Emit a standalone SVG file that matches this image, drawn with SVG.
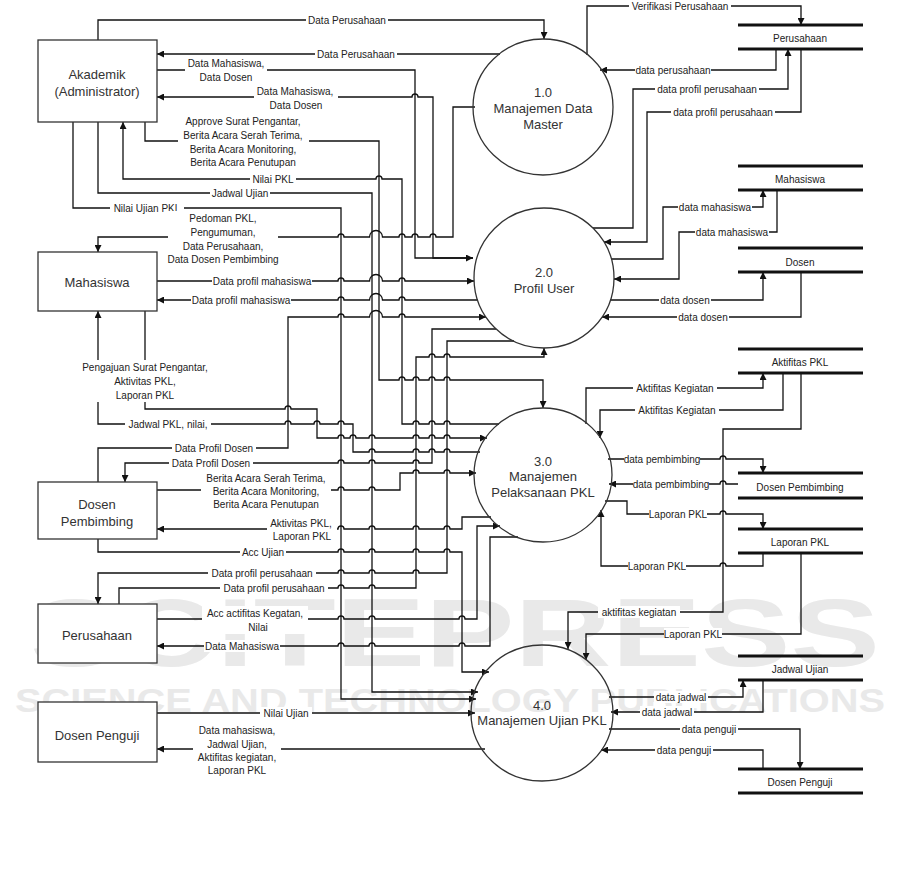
<svg xmlns="http://www.w3.org/2000/svg" width="901" height="887" viewBox="0 0 901 887">
<style>
.c{fill:none;stroke:#111;stroke-width:1.3}
.bg{fill:#fff}
.t{font-family:"Liberation Sans",Arial,sans-serif;font-size:10px;fill:#222;text-anchor:middle;dominant-baseline:central}
.n{font-family:"Liberation Sans",Arial,sans-serif;font-size:13px;fill:#333;text-anchor:middle;dominant-baseline:central}
.box{fill:#fff;stroke:#333;stroke-width:1.3}
.p{fill:#fff;fill-opacity:0;stroke:#333;stroke-width:1.3}
.s{stroke:#111;stroke-width:3}
.w{font-family:"Liberation Sans",Arial,sans-serif;font-weight:bold;fill:#e9e9e9}
</style>
<defs>
<marker id="ar" viewBox="0 0 10 10" refX="10" refY="5" markerWidth="7" markerHeight="7" markerUnits="userSpaceOnUse" orient="auto"><path d="M0,0 L10,5 L0,10 z" fill="#111"/></marker>
</defs>
<rect width="901" height="887" fill="#fff"/>
<g id="watermark">
<text class="w" x="30" y="666" font-size="96" textLength="850" lengthAdjust="spacingAndGlyphs">SCITEPRESS</text>
<text class="w" x="15" y="712" font-size="34" textLength="870" lengthAdjust="spacingAndGlyphs">SCIENCE AND TECHNOLOGY PUBLICATIONS</text>
</g>
<g id="connectors" marker-end="url(#ar)">
<path class="c" d="M98,40 V20 H544 V39"/>
<path class="c" d="M500,54 H157"/>
<path class="c" d="M157,70 H415 V258 H473"/>
<path class="c" d="M473,258 H433 V97 H418 a3,3 0 0 0 -6,0 H157"/>
<path class="c" d="M145,122 V141 H379 V380 H399 a3,3 0 0 1 6,0 H413 a3,3 0 0 1 6,0 H429 a3,3 0 0 1 6,0 H444 a3,3 0 0 1 6,0 H543 V408"/>
<path class="c" d="M499,424 H450 a3,3 0 0 0 -6,0 H435 a3,3 0 0 0 -6,0 H419 a3,3 0 0 0 -6,0 H402 V179 H382 a3,3 0 0 0 -6,0 H123 V122"/>
<path class="c" d="M98,122 V193 H372 V692 H478"/>
<path class="c" d="M73,122 V208 H341 V699 H476"/>
<path class="c" d="M475,107 H453 V237 H436 a3,3 0 0 0 -6,0 H418 a3,3 0 0 0 -6,0 H405 a3,3 0 0 0 -6,0 H382.5 a6.5,6.5 0 0 0 -13,0 H344 a3,3 0 0 0 -6,0 H98 V252"/>
<path class="c" d="M157,281 H338 a3,3 0 0 1 6,0 H369.5 a6.5,6.5 0 0 1 13,0 H399 a3,3 0 0 1 6,0 H474"/>
<path class="c" d="M478,300 H405 a3,3 0 0 0 -6,0 H382.5 a6.5,6.5 0 0 0 -13,0 H344 a3,3 0 0 0 -6,0 H157"/>
<path class="c" d="M98,482 V448 H288 V317 H338 a3,3 0 0 1 6,0 H369.5 a6.5,6.5 0 0 1 13,0 H399 a3,3 0 0 1 6,0 H486"/>
<path class="c" d="M496,329 H432 V463 H419 a3,3 0 0 0 -6,0 H375 a3,3 0 0 0 -6,0 H344 a3,3 0 0 0 -6,0 H125 V482"/>
<path class="c" d="M514,341 H447 V573 H419 a3,3 0 0 0 -6,0 H375 a3,3 0 0 0 -6,0 H344 a3,3 0 0 0 -6,0 H98 V604"/>
<path class="c" d="M119,604 V588 H338 a3,3 0 0 1 6,0 H369 a3,3 0 0 1 6,0 H416 V357 H429 a3,3 0 0 1 6,0 H444 a3,3 0 0 1 6,0 H544 V348"/>
<path class="c" d="M145,311 V409 H285 a3,3 0 0 1 6,0 H317 V438 H338 a3,3 0 0 1 6,0 H350 a3,3 0 0 1 6,0 H369 a3,3 0 0 1 6,0 H413 a3,3 0 0 1 6,0 H429 a3,3 0 0 1 6,0 H444 a3,3 0 0 1 6,0 H487"/>
<path class="c" d="M480,452 H450 a3,3 0 0 0 -6,0 H435 a3,3 0 0 0 -6,0 H419 a3,3 0 0 0 -6,0 H375 a3,3 0 0 0 -6,0 H353 V424 H344 a3,3 0 0 0 -6,0 H320 a3,3 0 0 0 -6,0 H291 a3,3 0 0 0 -6,0 H98 V311"/>
<path class="c" d="M157,490 H338 a3,3 0 0 1 6,0 H369 a3,3 0 0 1 6,0 H400 V473 H413 a3,3 0 0 1 6,0 H444 a3,3 0 0 1 6,0 H476"/>
<path class="c" d="M491,517 H462 V529 H450 a3,3 0 0 0 -6,0 H419 a3,3 0 0 0 -6,0 H375 a3,3 0 0 0 -6,0 H344 a3,3 0 0 0 -6,0 H157"/>
<path class="c" d="M98,539 V552 H338 a3,3 0 0 1 6,0 H369 a3,3 0 0 1 6,0 H413 a3,3 0 0 1 6,0 H444 a3,3 0 0 1 6,0 H462 V672 H489"/>
<path class="c" d="M157,619 H338 a3,3 0 0 1 6,0 H369 a3,3 0 0 1 6,0 H459 a3,3 0 0 1 6,0 H477 V526 H500"/>
<path class="c" d="M518,537 H490 V646 H465 a3,3 0 0 0 -6,0 H375 a3,3 0 0 0 -6,0 H344 a3,3 0 0 0 -6,0 H157"/>
<path class="c" d="M157,713 H475"/>
<path class="c" d="M485,749 H157"/>
<path class="c" d="M587,55 V6 H801 V25"/>
<path class="c" d="M776,49 V70 H600"/>
<path class="c" d="M593,228 H633 V89 H788 V49"/>
<path class="c" d="M801,49 V112 H647 V242 H604"/>
<path class="c" d="M611,259 H663 V207 H763 V190"/>
<path class="c" d="M777,190 V232 H679 V279 H614"/>
<path class="c" d="M610,300 H763 V272"/>
<path class="c" d="M801,272 V317 H602"/>
<path class="c" d="M586,424 V388 H763 V373"/>
<path class="c" d="M783,373 V410 H600 V438"/>
<path class="c" d="M801,373 V429 H723 V612 H568 V649"/>
<path class="c" d="M608,459 H720 a3,3 0 0 1 6,0 H763 V473"/>
<path class="c" d="M738,484 H726 a3,3 0 0 0 -6,0 H609"/>
<path class="c" d="M605,501 H627 V514 H720 a3,3 0 0 1 6,0 H763 V529"/>
<path class="c" d="M763,553 V566 H726 a3,3 0 0 0 -6,0 H601 V510"/>
<path class="c" d="M801,553 V634 H586 V660"/>
<path class="c" d="M609,697 H743 V680"/>
<path class="c" d="M763,680 V712 H611"/>
<path class="c" d="M609,729 H800 V769"/>
<path class="c" d="M763,769 V750 H601"/>
</g>
<g id="labels">
<rect class="bg" x="306" y="14" width="82" height="12"/><text class="t" x="347" y="20">Data Perusahaan</text>
<rect class="bg" x="315" y="48" width="82" height="12"/><text class="t" x="356" y="54">Data Perusahaan</text>
<rect class="bg" x="185" y="56" width="82" height="28"/><text class="t" x="226" y="63">Data Mahasiswa,</text><text class="t" x="226" y="77">Data Dosen</text>
<rect class="bg" x="254" y="84" width="84" height="28"/><text class="t" x="295" y="91">Data Mahasiswa,</text><text class="t" x="296" y="105">Data Dosen</text>
<rect class="bg" x="178" y="114" width="131" height="55"/><text class="t" x="243" y="121">Approve Surat Pengantar,</text><text class="t" x="243" y="135">Berita Acara Serah Terima,</text><text class="t" x="243" y="149">Berita Acara Monitoring,</text><text class="t" x="243" y="162">Berita Acara Penutupan</text>
<rect class="bg" x="250" y="173" width="46" height="12"/><text class="t" x="273" y="179">Nilai PKL</text>
<rect class="bg" x="210" y="187" width="60" height="12"/><text class="t" x="240" y="193">Jadwal Ujian</text>
<rect class="bg" x="110" y="202" width="74" height="12"/><text class="t" x="147" y="208">Nilai Ujian PKL</text>
<rect class="bg" x="168" y="211" width="110" height="55"/><text class="t" x="223" y="218">Pedoman PKL,</text><text class="t" x="223" y="232">Pengumuman,</text><text class="t" x="223" y="246">Data Perusahaan,</text><text class="t" x="223" y="259">Data Dosen Pembimbing</text>
<rect class="bg" x="212" y="275" width="100" height="12"/><text class="t" x="262" y="281">Data profil mahasiswa</text>
<rect class="bg" x="191" y="294" width="100" height="12"/><text class="t" x="241" y="300">Data profil mahasiswa</text>
<rect class="bg" x="80" y="360" width="130" height="42"/><text class="t" x="145" y="367">Pengajuan Surat Pengantar,</text><text class="t" x="145" y="381">Aktivitas PKL,</text><text class="t" x="145" y="395">Laporan PKL</text>
<rect class="bg" x="125" y="418" width="86" height="12"/><text class="t" x="168" y="424">Jadwal PKL, nilai,</text>
<rect class="bg" x="172" y="442" width="84" height="12"/><text class="t" x="214" y="448">Data Profil Dosen</text>
<rect class="bg" x="169" y="457" width="84" height="12"/><text class="t" x="211" y="463">Data Profil Dosen</text>
<rect class="bg" x="201" y="471" width="130" height="40"/><text class="t" x="266" y="478">Berita Acara Serah Terima,</text><text class="t" x="266" y="491">Berita Acara Monitoring,</text><text class="t" x="266" y="504">Berita Acara Penutupan</text>
<rect class="bg" x="267" y="516" width="70" height="27"/><text class="t" x="301" y="523">Aktivitas PKL,</text><text class="t" x="302" y="536">Laporan PKL</text>
<rect class="bg" x="240" y="546" width="46" height="12"/><text class="t" x="263" y="552">Acc Ujian</text>
<rect class="bg" x="208" y="567" width="108" height="12"/><text class="t" x="262" y="573">Data profil perusahaan</text>
<rect class="bg" x="220" y="582" width="108" height="12"/><text class="t" x="274" y="588">Data profil perusahaan</text>
<rect class="bg" x="202" y="606" width="106" height="28"/><text class="t" x="255" y="613">Acc actifitas Kegatan,</text><text class="t" x="258" y="627">Nilai</text>
<rect class="bg" x="204" y="640" width="76" height="12"/><text class="t" x="242" y="646">Data Mahasiswa</text>
<rect class="bg" x="260" y="707" width="52" height="12"/><text class="t" x="286" y="713">Nilai Ujian</text>
<rect class="bg" x="193" y="723" width="88" height="54"/><text class="t" x="237" y="730">Data mahasiswa,</text><text class="t" x="237" y="744">Jadwal Ujian,</text><text class="t" x="237" y="757">Aktifitas kegiatan,</text><text class="t" x="237" y="770">Laporan PKL</text>
<rect class="bg" x="629" y="0" width="102" height="12"/><text class="t" x="680" y="6">Verifikasi Perusahaan</text>
<rect class="bg" x="635" y="64" width="76" height="12"/><text class="t" x="673" y="70">data perusahaan</text>
<rect class="bg" x="655" y="83" width="104" height="12"/><text class="t" x="707" y="89">data profil perusahaan</text>
<rect class="bg" x="671" y="106" width="104" height="12"/><text class="t" x="723" y="112">data profil perusahaan</text>
<rect class="bg" x="678" y="201" width="74" height="12"/><text class="t" x="715" y="207">data mahasiswa</text>
<rect class="bg" x="695" y="226" width="74" height="12"/><text class="t" x="732" y="232">data mahasiswa</text>
<rect class="bg" x="659" y="294" width="52" height="12"/><text class="t" x="685" y="300">data dosen</text>
<rect class="bg" x="677" y="311" width="52" height="12"/><text class="t" x="703" y="317">data dosen</text>
<rect class="bg" x="633" y="382" width="84" height="12"/><text class="t" x="675" y="388">Aktifitas Kegiatan</text>
<rect class="bg" x="635" y="404" width="84" height="12"/><text class="t" x="677" y="410">Aktifitas Kegiatan</text>
<rect class="bg" x="624" y="453" width="76" height="12"/><text class="t" x="662" y="459">data pembimbing</text>
<rect class="bg" x="633" y="478" width="76" height="12"/><text class="t" x="671" y="484">data pembimbing</text>
<rect class="bg" x="649" y="508" width="58" height="12"/><text class="t" x="678" y="514">Laporan PKL</text>
<rect class="bg" x="628" y="560" width="58" height="12"/><text class="t" x="657" y="566">Laporan PKL</text>
<rect class="bg" x="598" y="606" width="82" height="12"/><text class="t" x="639" y="612">aktifitas kegiatan</text>
<rect class="bg" x="664" y="628" width="58" height="12"/><text class="t" x="693" y="634">Laporan PKL</text>
<rect class="bg" x="654" y="691" width="54" height="12"/><text class="t" x="681" y="697">data jadwal</text>
<rect class="bg" x="640" y="706" width="54" height="12"/><text class="t" x="667" y="712">data jadwal</text>
<rect class="bg" x="680" y="723" width="58" height="12"/><text class="t" x="709" y="729">data penguji</text>
<rect class="bg" x="655" y="744" width="58" height="12"/><text class="t" x="684" y="750">data penguji</text>
</g>
<g id="akademik"><rect class="box" x="38" y="40" width="119" height="82"/><text class="n" x="97" y="74">Akademik</text><text class="n" x="97" y="91">(Administrator)</text></g>
<g id="mahasiswa"><rect class="box" x="38" y="252" width="119" height="59"/><text class="n" x="97" y="282">Mahasiswa</text></g>
<g id="dosen-pembimbing"><rect class="box" x="38" y="482" width="119" height="57"/><text class="n" x="97" y="504">Dosen</text><text class="n" x="97" y="521">Pembimbing</text></g>
<g id="perusahaan"><rect class="box" x="38" y="604" width="119" height="59"/><text class="n" x="97" y="635">Perusahaan</text></g>
<g id="dosen-penguji"><rect class="box" x="38" y="702" width="119" height="60"/><text class="n" x="97" y="735">Dosen Penguji</text></g>
<g id="p1"><ellipse class="p" cx="543" cy="107" rx="70" ry="68"/><text class="n" x="543" y="92">1.0</text><text class="n" x="543" y="108">Manajemen Data</text><text class="n" x="543" y="124">Master</text></g>
<g id="p2"><ellipse class="p" cx="544" cy="278" rx="70" ry="70"/><text class="n" x="544" y="272">2.0</text><text class="n" x="544" y="288">Profil User</text></g>
<g id="p3"><ellipse class="p" cx="543" cy="475" rx="69" ry="67"/><text class="n" x="543" y="461">3.0</text><text class="n" x="543" y="476">Manajemen</text><text class="n" x="543" y="492">Pelaksanaan PKL</text></g>
<g id="p4"><ellipse class="p" cx="542" cy="713" rx="71" ry="68"/><text class="n" x="542" y="705">4.0</text><text class="n" x="542" y="720">Manajemen Ujian PKL</text></g>
<g id="ds-perusahaan"><line class="s" x1="738" y1="25" x2="863" y2="25"/><line class="s" x1="738" y1="49" x2="863" y2="49"/><text class="t" x="800" y="38">Perusahaan</text></g>
<g id="ds-mahasiswa"><line class="s" x1="738" y1="166" x2="863" y2="166"/><line class="s" x1="738" y1="190" x2="863" y2="190"/><text class="t" x="800" y="179">Mahasiswa</text></g>
<g id="ds-dosen"><line class="s" x1="738" y1="248" x2="863" y2="248"/><line class="s" x1="738" y1="272" x2="863" y2="272"/><text class="t" x="800" y="262">Dosen</text></g>
<g id="ds-aktifitas"><line class="s" x1="738" y1="349" x2="863" y2="349"/><line class="s" x1="738" y1="373" x2="863" y2="373"/><text class="t" x="800" y="362">Aktifitas PKL</text></g>
<g id="ds-dosen-pembimbing"><line class="s" x1="738" y1="473" x2="863" y2="473"/><line class="s" x1="738" y1="498" x2="863" y2="498"/><text class="t" x="800" y="487">Dosen Pembimbing</text></g>
<g id="ds-laporan"><line class="s" x1="738" y1="529" x2="863" y2="529"/><line class="s" x1="738" y1="553" x2="863" y2="553"/><text class="t" x="800" y="542">Laporan PKL</text></g>
<g id="ds-jadwal"><line class="s" x1="738" y1="656" x2="863" y2="656"/><line class="s" x1="738" y1="680" x2="863" y2="680"/><text class="t" x="800" y="669">Jadwal Ujian</text></g>
<g id="ds-dosen-penguji"><line class="s" x1="738" y1="769" x2="863" y2="769"/><line class="s" x1="738" y1="793" x2="863" y2="793"/><text class="t" x="800" y="782">Dosen Penguji</text></g>
</svg>
